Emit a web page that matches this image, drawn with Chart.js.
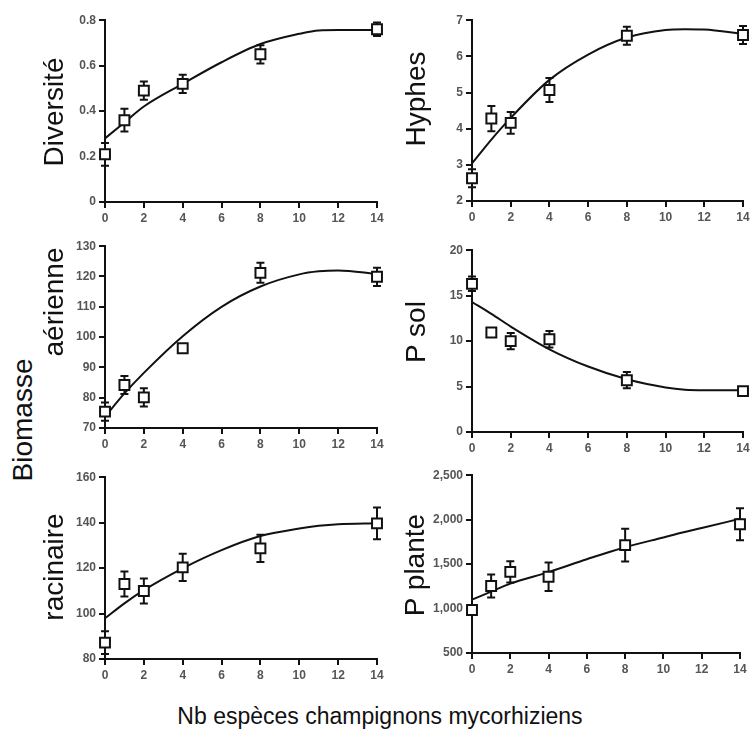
<!DOCTYPE html>
<html>
<head>
<meta charset="utf-8">
<script src="https://cdn.jsdelivr.net/npm/chart.js@4.4.1/dist/chart.umd.min.js"></script>
<style>
    body { margin: 0; background: #fff; }
    #fig { position: relative; width: 754px; height: 729px; overflow: hidden; background: #fff; }
    canvas { position: absolute; }
    .ylab {
        position: absolute;
        font-family: "Liberation Sans", Arial, sans-serif;
        font-size: 28px;
        color: #111;
        white-space: nowrap;
        transform: translate(-50%, -50%) rotate(-90deg);
        z-index: 2;
    }
    #xtitle {
        position: absolute;
        font-family: "Liberation Sans", Arial, sans-serif;
        font-size: 23px;
        color: #111;
        white-space: nowrap;
        transform: translate(-50%, -50%);
        left: 380px;
        top: 716px;
    }
</style>
</head>
<body>
<div id="fig">
    <canvas id="c1"></canvas>
    <canvas id="c2"></canvas>
    <canvas id="c3"></canvas>
    <canvas id="c4"></canvas>
    <canvas id="c5"></canvas>
    <canvas id="c6"></canvas>
    <div class="ylab" style="left:53.5px; top:112px;">Diversité</div>
    <div class="ylab" style="left:416px; top:99px;">Hyphes</div>
    <div class="ylab" style="left:53.5px; top:302px;">aérienne</div>
    <div class="ylab" style="left:22.5px; top:420px;">Biomasse</div>
    <div class="ylab" style="left:416px; top:332px;">P sol</div>
    <div class="ylab" style="left:53.5px; top:567px;">racinaire</div>
    <div class="ylab" style="left:415px; top:565px;">P plante</div>
    <div id="xtitle">Nb espèces champignons mycorhiziens</div>
</div>
<script>
// nombre d'espèces de champignons (axe x commun)
const nbEspeces = [0, 1, 2, 4, 8, 14];
const xTicks = [0, 2, 4, 6, 8, 10, 12, 14];

const fitX = [0, 1, 2, 4, 6, 8, 10, 11, 12, 14];

// Diversité
const diversite = [0.21, 0.36, 0.49, 0.52, 0.65, 0.76];
const diversiteErr = [0.05, 0.05, 0.04, 0.04, 0.04, 0.03];
const diversiteFit = [0.28, 0.35, 0.42, 0.52, 0.615, 0.695, 0.74, 0.755, 0.757, 0.757];

// Hyphes
const hyphes = [2.63, 4.28, 4.16, 5.07, 6.57, 6.59];
const hyphesErr = [0.25, 0.35, 0.3, 0.33, 0.25, 0.25];
const hyphesFit = [3.04, 3.7, 4.3, 5.35, 6.05, 6.52, 6.73, 6.75, 6.74, 6.62];

// Biomasse aérienne
const biomAerienne = [75.4, 84.2, 80.1, 96.3, 121.2, 119.9];
const biomAerienneErr = [3, 3, 3, 1, 3.3, 3];
const biomAerienneFit = [73.7, 81.4, 88.2, 100.3, 110, 116.7, 120.7, 121.7, 122, 120.8];

// P sol
const pSol = [16.3, 10.95, 10.0, 10.2, 5.7, 4.5];
const pSolErr = [0.8, 0.3, 0.9, 0.9, 0.9, 0.2];
const pSolFit = [14.3, 13.0, 11.6, 9.1, 7.2, 5.8, 4.9, 4.65, 4.6, 4.6];

// Biomasse racinaire
const biomRacinaire = [87.2, 113, 109.9, 120.3, 128.7, 139.7];
const biomRacinaireErr = [5, 5.5, 5.5, 6, 6, 7];
const biomRacinaireFit = [97.9, 104.5, 110.3, 119.9, 127.9, 134.1, 137.4, 138.6, 139.3, 139.7];

// P plante
const pPlante = [983, 1253, 1413, 1357, 1713, 1949];
const pPlanteErr = [40, 130, 120, 160, 185, 180];
const pPlanteFit = [1100, 1190, 1280, 1410, 1555, 1690, 1800, 1855, 1905, 2010];

const INK = '#111';
const TICK_COLOR = '#555';
const PAD_LEFT = 50, PAD_BOTTOM = 30, PAD_TOP = 10, PAD_RIGHT = 12;

// barres d'erreur dessinées avant les points (les carrés blancs les recouvrent)
const errorBars = {
    id: 'errorBars',
    beforeDatasetsDraw(chart) {
        const ctx = chart.ctx;
        const xs = chart.scales.x;
        const ys = chart.scales.y;
        const ds = chart.data.datasets[0];
        ctx.save();
        ctx.strokeStyle = INK;
        ctx.lineWidth = 2;
        ds.data.forEach((p, i) => {
            const e = ds.errors[i];
            const px = xs.getPixelForValue(p.x);
            const top = ys.getPixelForValue(p.y + e);
            const bot = ys.getPixelForValue(p.y - e);
            ctx.beginPath();
            ctx.moveTo(px, top);
            ctx.lineTo(px, bot);
            ctx.moveTo(px - 4, top);
            ctx.lineTo(px + 4, top);
            ctx.moveTo(px - 4, bot);
            ctx.lineTo(px + 4, bot);
            ctx.stroke();
        });
        ctx.restore();
    }
};

function toPoints(xs, ys) {
    return xs.map((x, i) => ({ x: x, y: ys[i] }));
}

function makePanel(id, box, means, errs, fit, yMin, yMax, yStep, fmt) {
    const canvas = document.getElementById(id);
    const w = (box.x14 - box.axisX) + PAD_LEFT + PAD_RIGHT;
    const h = (box.yBottom - box.yTop) + PAD_TOP + PAD_BOTTOM;
    canvas.width = w;
    canvas.height = h;
    canvas.style.left = (box.axisX - PAD_LEFT) + 'px';
    canvas.style.top = (box.yTop - PAD_TOP) + 'px';

    const tickFont = { family: '"Liberation Sans", Arial, sans-serif', size: 12, weight: 'bold' };

    return new Chart(canvas, {
        type: 'scatter',
        data: {
            datasets: [
                {
                    data: toPoints(nbEspeces, means),
                    errors: errs,
                    pointStyle: 'rect',
                    pointRadius: 7,
                    pointHoverRadius: 7,
                    pointBackgroundColor: '#fff',
                    pointBorderColor: INK,
                    pointBorderWidth: 2,
                    showLine: false,
                    clip: false
                },
                {
                    data: toPoints(fitX, fit),
                    showLine: true,
                    borderColor: INK,
                    borderWidth: 2,
                    pointRadius: 0,
                    cubicInterpolationMode: 'monotone',
                    clip: false
                }
            ]
        },
        options: {
            responsive: false,
            animation: false,
            devicePixelRatio: 1,
            layout: { padding: { top: PAD_TOP, right: PAD_RIGHT, left: 0, bottom: 0 } },
            plugins: {
                legend: { display: false },
                tooltip: { enabled: false }
            },
            scales: {
                x: {
                    type: 'linear',
                    min: 0,
                    max: 14,
                    afterFit: s => { s.height = PAD_BOTTOM; },
                    afterBuildTicks: s => { s.ticks = xTicks.map(v => ({ value: v })); },
                    border: { display: true, color: INK, width: 2 },
                    grid: { display: true, drawOnChartArea: false, drawTicks: true, tickLength: 6, color: INK, lineWidth: 2 },
                    ticks: { color: TICK_COLOR, font: tickFont, padding: 3, maxRotation: 0 }
                },
                y: {
                    min: yMin,
                    max: yMax,
                    afterFit: s => { s.width = PAD_LEFT; },
                    border: { display: true, color: INK, width: 2 },
                    grid: { display: true, drawOnChartArea: false, drawTicks: true, tickLength: 6, color: INK, lineWidth: 2 },
                    ticks: { stepSize: yStep, color: TICK_COLOR, font: tickFont, padding: 3, callback: fmt }
                }
            }
        },
        plugins: [errorBars]
    });
}

const plain = v => String(Math.round(v * 10) / 10);
const thousands = v => v.toLocaleString('en-US');

makePanel('c1', { axisX: 105, x14: 377, yTop: 20, yBottom: 202 }, diversite, diversiteErr, diversiteFit, 0, 0.8, 0.2, plain);
makePanel('c2', { axisX: 472, x14: 743, yTop: 20, yBottom: 201 }, hyphes, hyphesErr, hyphesFit, 2, 7, 1, plain);
makePanel('c3', { axisX: 105, x14: 377, yTop: 246, yBottom: 428 }, biomAerienne, biomAerienneErr, biomAerienneFit, 70, 130, 10, plain);
makePanel('c4', { axisX: 472, x14: 743, yTop: 250, yBottom: 432 }, pSol, pSolErr, pSolFit, 0, 20, 5, plain);
makePanel('c5', { axisX: 105, x14: 377, yTop: 477, yBottom: 659 }, biomRacinaire, biomRacinaireErr, biomRacinaireFit, 80, 160, 20, plain);
makePanel('c6', { axisX: 472, x14: 740, yTop: 475, yBottom: 653 }, pPlante, pPlanteErr, pPlanteFit, 500, 2500, 500, thousands);
</script>
</body>
</html>
